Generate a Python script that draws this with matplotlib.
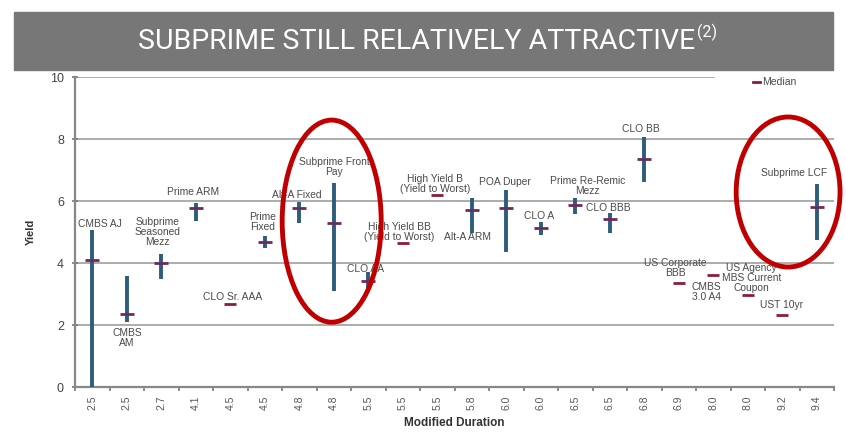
import numpy as np
import matplotlib
matplotlib.use("Agg")
import matplotlib.pyplot as plt
from matplotlib.patches import Ellipse, Rectangle

plt.rcParams['font.family'] = ['Liberation Sans', 'DejaVu Sans']

# modified duration shown under each security
durations = ['2.5', '2.5', '2.7', '4.1', '4.5', '4.5', '4.8', '4.8', '5.5', '5.5', '5.5',
             '5.8', '6.0', '6.0', '6.5', '6.5', '6.8', '6.9', '8.0', '8.0', '9.2', '9.4']
names = ['CMBS AJ', 'CMBS\nAM', 'Subprime\nSeasoned\nMezz', 'Prime ARM', 'CLO Sr. AAA',
         'Prime\nFixed', 'Alt-A Fixed', 'Subprime Front\nPay', 'CLO AA',
         'High Yield BB\n(Yield to Worst)', 'High Yield B\n(Yield to Worst)', 'Alt-A ARM',
         'POA Duper', 'CLO A', 'Prime Re-Remic\nMezz', 'CLO BBB', 'CLO BB',
         'US Corporate\nBBB', 'CMBS\n3.0 A4', 'US Agency\nMBS Current\nCoupon', 'UST 10yr',
         'Subprime LCF']
# yield ranges (nan = median only)
low = [0.0, 2.1, 3.5, 5.35, np.nan, 4.5, 5.28, 3.1, 3.16, np.nan, np.nan,
       4.96, 4.37, 4.9, 5.58, 4.96, 6.62, np.nan, np.nan, np.nan, np.nan, 4.74]
high = [5.05, 3.58, 4.3, 5.95, np.nan, 4.88, 5.98, 6.57, 3.7, np.nan, np.nan,
        6.1, 6.35, 5.33, 6.09, 5.62, 8.08, np.nan, np.nan, np.nan, np.nan, 6.55]
median = [4.1, 2.35, 4.0, 5.78, 2.68, 4.68, 5.79, 5.28, 3.43, 4.65, 6.2,
          5.72, 5.76, 5.12, 5.87, 5.41, 7.35, 3.35, 3.61, 2.97, 2.32, 5.82]

# where each name is written (category units, yield)
label_pos = [(0.23, 5.26), (1.01, 1.58), (1.88, 5.0), (2.93, 6.29), (4.06, 2.9),
             (4.93, 5.32), (5.94, 6.19), (7.01, 7.1), (7.91, 3.81), (8.9, 5.0),
             (9.94, 6.55), (10.87, 4.84), (11.97, 6.61), (12.96, 5.52), (14.35, 6.48),
             (14.96, 5.77), (15.91, 8.32), (16.9, 3.84), (17.8, 3.06), (19.1, 3.52),
             (19.97, 2.65), (20.35, 6.9)]

bar_color = '#2d5d7b'
med_color = '#6e2a5e'
solo_color = '#8a1c3c'
text_color = '#4a4a4a'

fig = plt.figure(figsize=(8.46, 4.32), dpi=100)

# title banner
fig.patches.append(Rectangle((14 / 846, 362 / 432), 819 / 846, 58 / 432,
                             transform=fig.transFigure, color='#777777', zorder=0))
title_font = ['Liberation Sans Narrow', 'Roboto', 'DejaVu Sans']
shift = 0.008
title = fig.text(0.5 - shift, 0.905, 'SUBPRIME STILL RELATIVELY ATTRACTIVE', color='white',
                 fontsize=20.5, ha='center', va='center', family=title_font)
fig.canvas.draw()
bb = title.get_window_extent()
fig.text(bb.x1 / 846 + 0.002, 0.925, '(2)', color='white',
         fontsize=11.5, ha='left', va='center', family=title_font)

ax = fig.add_axes([75 / 846, 45 / 432, 759 / 846, 310 / 432])
x = np.arange(len(durations))

ax.vlines(x, low, high, color=bar_color, lw=2.8, zorder=3)
has_range = ~np.isnan(np.array(low))
med = np.array(median)
ax.plot(x[has_range], med[has_range], ls='none', marker='_', ms=10,
        mew=2, color=med_color, zorder=4)
ax.plot(x[~has_range], med[~has_range], ls='none', marker='_', ms=9,
        mew=2, color=solo_color, zorder=4)

for name, (lx, ly) in zip(names, label_pos):
    ax.text(lx, ly, name, ha='center', va='center', fontsize=7.4,
            color=text_color, linespacing=1.0, zorder=5)

ax.set_xlim(-0.5, len(durations) - 0.5)
ax.set_ylim(0, 10)
ax.set_yticks(range(0, 11, 2))
ax.yaxis.grid(True, color='#a6a6a6', lw=1.3)
ax.set_axisbelow(True)

ax.set_xticks(x)
ax.set_xticklabels(durations, rotation=90, fontsize=7.5, color='#555555')
ax.set_xticks(np.arange(-0.5, len(durations)), minor=True)
ax.tick_params(axis='x', which='major', length=0, pad=6)
ax.tick_params(axis='x', which='minor', length=3, color='#777777', width=1.2)
ax.tick_params(axis='y', length=4, direction='inout', color='#777777', width=1.2,
               labelsize=9, labelcolor='#444444', pad=6)

for side in ['top', 'right']:
    ax.spines[side].set_visible(False)
for side in ['left', 'bottom']:
    ax.spines[side].set_color('#888888')
    ax.spines[side].set_linewidth(1.6)

ax.set_ylabel('Yield', fontsize=8, fontweight='bold', color='#333333', labelpad=10)
ax.set_xlabel('Modified Duration', fontsize=8.5, fontweight='bold', color='#333333',
              labelpad=5)

# median key
ax.add_patch(Rectangle((0.843, 0.95), 0.16, 0.08, transform=ax.transAxes,
                       color='white', clip_on=False, zorder=2))
ax.plot([0.893, 0.903], [0.984, 0.984], transform=ax.transAxes, color=solo_color,
        lw=2, clip_on=False, zorder=3)
ax.text(0.905, 0.984, 'Median', transform=ax.transAxes, fontsize=7.5,
        color=text_color, va='center', ha='left')

# highlight the subprime securities
for cx, cy, w, h in [(6.94, 5.35, 2.87, 6.52), (20.17, 6.29, 3.01, 4.84)]:
    ax.add_patch(Ellipse((cx, cy), w, h, fill=False, ec='#c00000', lw=3.5,
                         clip_on=False, zorder=6))

fig.savefig('out.png', dpi=100)
